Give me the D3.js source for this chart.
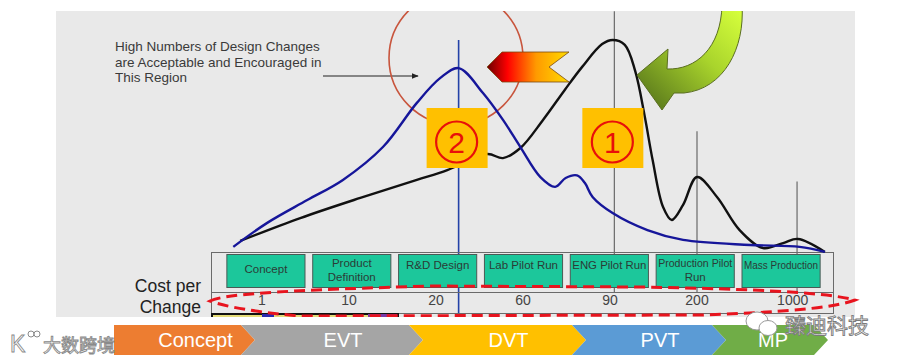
<!DOCTYPE html>
<html lang="en">
<head>
<meta charset="utf-8">
<title>Design changes vs cost per change</title>
<script src="https://d3js.org/d3.v7.min.js"></script>
<style>
body{margin:0;background:#fff;}
svg{display:block;}
</style>
</head>
<body>
<script>
// ---- data ----
// x is the development phase index (0 = Concept ... 6 = Mass Production), y is a relative level of design changes
var phaseLines = [["Concept"], ["Product", "Definition"], ["R&D Design"], ["Lab Pilot Run"], ["ENG Pilot Run"], ["Production Pilot", "Run"], ["Mass Production"]];
var costLabels = ["1", "10", "20", "60", "90", "200", "1000"];
var costPos = [0, 1, 2, 3, 4, 5, 6.1];

// blue: design changes that are cheap to take (peak early)
var blueCurve = [[-0.33, 3.8], [0.06, 13.8], [0.52, 23.3], [0.93, 31.7], [1.39, 45.4], [1.78, 63.8], [2.05, 74.2], [2.26, 78.3],
  [2.54, 67.9], [2.77, 56.7], [2.97, 45.4], [3.2, 32.9], [3.37, 28.8], [3.49, 32.5], [3.62, 33.6], [3.71, 30.5], [3.8, 24.6],
  [4.03, 17.9], [4.43, 10.8], [4.84, 6.7], [5.61, 4.6], [6.18, 3.8], [6.47, 1.7]];
// black: design changes actually happening (peak late)
var blackCurve = [[-0.25, 6.3], [0.44, 15.8], [1.13, 24.2], [1.78, 31.7], [2.13, 35.8], [2.59, 42.5], [2.77, 40.8], [2.97, 45],
  [3.23, 56.7], [3.48, 69.2], [3.68, 78.8], [3.91, 88.3], [4.03, 90], [4.17, 88], [4.29, 77], [4.4, 58], [4.49, 40],
  [4.61, 20.4], [4.71, 15], [4.84, 21.3], [5.0, 32.9], [5.23, 24.6], [5.49, 10.8], [5.76, 3.3], [5.99, 5.4], [6.16, 7.1], [6.47, 1.7]];

var markerX = [4.05, 5.0, 6.15];
var markerTop = [102, 52, 31];
var blueLineX = 2.26, blueLineTop = 90;

var stageNames = ["Concept", "EVT", "DVT", "PVT", "MP"];
var stageSpan = [127, 168, 163, 140, 102];
var stageColors = ["#ed7d31", "#a5a5a5", "#ffc000", "#5b9bd5", "#70ad47"];

var noteLines = ["High Numbers of Design Changes", "are Acceptable and Encouraged in", "This Region"];

// ---- setup ----
var W = 900, H = 364;
var svg = d3.select("body").append("svg").attr("width", W).attr("height", H);
var defs = svg.append("defs");

defs.append("clipPath").attr("id", "panelClip")
  .append("rect").attr("x", 0).attr("y", 11).attr("width", W).attr("height", 306);

var redGrad = defs.append("linearGradient").attr("id", "redGrad").attr("x1", "0%").attr("x2", "100%");
[["0%", "#6a0000"], ["25%", "#ff0000"], ["60%", "#ff9a00"], ["100%", "#ffdc00"]].forEach(function(s) {
  redGrad.append("stop").attr("offset", s[0]).attr("stop-color", s[1]);
});
var greenGrad = defs.append("linearGradient").attr("id", "greenGrad")
  .attr("gradientUnits", "userSpaceOnUse").attr("x1", 740).attr("y1", 10).attr("x2", 650).attr("y2", 105);
[["0%", "#d6ff3c"], ["45%", "#a9d42c"], ["100%", "#5b7a1c"]].forEach(function(s) {
  greenGrad.append("stop").attr("offset", s[0]).attr("stop-color", s[1]);
});
defs.append("marker").attr("id", "arrowHead").attr("viewBox", "0 0 10 10")
  .attr("refX", 9).attr("refY", 5).attr("markerWidth", 6).attr("markerHeight", 6).attr("orient", "auto")
  .append("path").attr("d", "M0,1 L10,5 L0,9 Z").attr("fill", "#222");

svg.append("rect").attr("x", 56).attr("y", 11).attr("width", 799).attr("height", 306).attr("fill", "#e9e9e9");

var g = svg.append("g").attr("clip-path", "url(#panelClip)");

var x = d3.scaleLinear().domain([0, 6]).range([262, 784]);
var y = d3.scaleLinear().domain([0, 100]).range([256, 16]);
var band = d3.scaleBand().domain(d3.range(phaseLines.length)).range([223, 824]).paddingInner(0.09).paddingOuter(0.045);

// note text + arrow
g.append("g").selectAll("text").data(noteLines).enter().append("text")
  .attr("x", 115).attr("y", function(d, i) { return 51 + i * 15.5; })
  .attr("font-family", "Liberation Sans, Arial, sans-serif").attr("font-size", 13.5).attr("fill", "#3a3a3a")
  .text(function(d) { return d; });
g.append("line").attr("x1", 323).attr("y1", 76).attr("x2", 418).attr("y2", 76)
  .attr("stroke", "#222").attr("stroke-width", 1.2).attr("marker-end", "url(#arrowHead)");

// red circle around the blue peak
g.append("circle").attr("cx", 456).attr("cy", 58).attr("r", 67)
  .attr("fill", "none").attr("stroke", "#c8553d").attr("stroke-width", 1.6);

// vertical marker lines
g.selectAll(".marker").data(markerX).enter().append("line").attr("class", "marker")
  .attr("x1", function(d) { return x(d); }).attr("x2", function(d) { return x(d); })
  .attr("y1", function(d, i) { return y(markerTop[i]); }).attr("y2", 293)
  .attr("stroke", "#6a6a6a").attr("stroke-width", 1.2);
g.append("line").attr("x1", x(blueLineX)).attr("x2", x(blueLineX)).attr("y1", y(blueLineTop)).attr("y2", 320)
  .attr("stroke", "#2342a8").attr("stroke-width", 1.6);

// table frame
var tbl = g.append("g").attr("stroke", "#6a6a6a").attr("stroke-width", 1).attr("fill", "none");
tbl.append("rect").attr("x", 211.5).attr("y", 252.5).attr("width", 622).attr("height", 61);
tbl.append("line").attr("x1", 211).attr("x2", 834).attr("y1", 292.5).attr("y2", 292.5);

// cropped strip below the table
g.append("rect").attr("x", 212).attr("y", 314).attr("width", 186).attr("height", 8)
  .attr("fill", "#e4dc78").attr("stroke", "#111").attr("stroke-width", 2);
g.append("rect").attr("x", 262).attr("y", 314).attr("width", 12).attr("height", 8).attr("fill", "#2a2ab0");
g.append("rect").attr("x", 368).attr("y", 314).attr("width", 29).attr("height", 8).attr("fill", "#7a3aa8");

// phase boxes
var boxes = g.selectAll(".phase").data(phaseLines).enter().append("g").attr("class", "phase");
boxes.append("rect")
  .attr("x", function(d, i) { return band(i); }).attr("y", 254.5)
  .attr("width", band.bandwidth()).attr("height", 33)
  .attr("fill", "#1cc79b").attr("stroke", "#4a5a55").attr("stroke-width", 1);
boxes.each(function(d, i) {
  var cx = band(i) + band.bandwidth() / 2;
  var maxW = band.bandwidth() - 4;
  d.forEach(function(line, k) {
    var yy = d.length === 1 ? (i === 0 ? 273 : 269) : 267 + k * 14;
    var t = d3.select(this).append("text").attr("x", cx).attr("y", yy).attr("text-anchor", "middle")
      .attr("font-family", "Liberation Sans, Arial, sans-serif").attr("font-size", 11.5)
      .attr("fill", "#2b3b36").text(line);
    if (t.node().getComputedTextLength() > maxW) {
      t.attr("textLength", maxW).attr("lengthAdjust", "spacingAndGlyphs");
    }
  }, this);
});

// cost per change row
g.selectAll(".cost").data(costLabels).enter().append("text").attr("class", "cost")
  .attr("x", function(d, i) { return x(costPos[i]); }).attr("y", 305)
  .attr("text-anchor", "middle").attr("font-family", "Liberation Sans, Arial, sans-serif")
  .attr("font-size", 14).attr("fill", "#444").text(function(d) { return d; });
g.append("text").attr("x", 201).attr("y", 292).attr("text-anchor", "end")
  .attr("font-family", "Liberation Sans, Arial, sans-serif").attr("font-size", 17.5).attr("fill", "#222").text("Cost per");
g.append("text").attr("x", 201).attr("y", 313).attr("text-anchor", "end")
  .attr("font-family", "Liberation Sans, Arial, sans-serif").attr("font-size", 17.5).attr("fill", "#222").text("Change");

// curves
var line = d3.line().x(function(d) { return x(d[0]); }).y(function(d) { return y(d[1]); })
  .curve(d3.curveCatmullRom.alpha(0.5));
g.append("path").datum(blackCurve).attr("d", line).attr("fill", "none").attr("stroke", "#111").attr("stroke-width", 2.4);
g.append("path").datum(blueCurve).attr("d", line).attr("fill", "none").attr("stroke", "#16169a").attr("stroke-width", 2.4);

// numbered tags
[["2", blueLineX], ["1", markerX[0]]].forEach(function(tag) {
  var cx = x(tag[1]) - 2;
  g.append("rect").attr("x", cx - 30).attr("y", 108).attr("width", 61).attr("height", 60).attr("fill", "#ffc000");
  g.append("circle").attr("cx", cx).attr("cy", 142).attr("r", 20.5)
    .attr("fill", "none").attr("stroke", "#e8100a").attr("stroke-width", 2.2);
  g.append("text").attr("x", cx).attr("y", 153).attr("text-anchor", "middle")
    .attr("font-family", "Liberation Sans, Arial, sans-serif").attr("font-size", 30).attr("fill", "#e8100a").text(tag[0]);
});

// gradient arrow pointing back to the early peak
g.append("path").attr("d", "M487,67 L502,52 L569,52 L549,67 L569,82 L502,82 Z")
  .attr("fill", "url(#redGrad)").attr("stroke", "#7a4a10").attr("stroke-width", 0.8);

// green curved arrow
g.append("path")
  .attr("d", "M722,5 L742,5 C745,48 724,89 684,93 L674,93 L662,110 L637,75 L668,49 L667,69 C696,70 721,48 722,5 Z")
  .attr("fill", "url(#greenGrad)").attr("stroke", "#5a6e20").attr("stroke-width", 1);

// red dashed outline round the cost row
g.append("path")
  .attr("d", "M210,301 C226,293 300,290 430,286 L640,287 C760,289 830,293 855,300 C840,306 800,312 700,315 L300,316 C262,313 226,307 210,301 Z")
  .attr("fill", "none").attr("stroke", "#e8141e").attr("stroke-width", 3).attr("stroke-dasharray", "11,6");

// stage chevrons
var cum = [0];
stageSpan.forEach(function(v) { cum.push(cum[cum.length - 1] + v); });
var sx = d3.scaleLinear().domain([0, d3.sum(stageSpan)]).range([114, 814]);
var barTop = 325, barBot = 355, barMid = 340, tip = 14;
var stages = svg.append("g").selectAll("g").data(stageNames).enter().append("g");
stages.append("path").attr("d", function(d, i) {
  var l = sx(cum[i]), r = sx(cum[i + 1]);
  var p = "M" + l + "," + barTop + " L" + r + "," + barTop + " L" + (r + tip) + "," + barMid +
    " L" + r + "," + barBot + " L" + l + "," + barBot;
  if (i > 0) p += " L" + (l + tip) + "," + barMid;
  return p + " Z";
}).attr("fill", function(d, i) { return stageColors[i]; });
stages.append("text")
  .attr("x", function(d, i) { return (sx(cum[i]) + sx(cum[i + 1])) / 2 + (i === 4 ? 10 : 18); })
  .attr("y", 347).attr("text-anchor", "middle")
  .attr("font-family", "Liberation Sans, Arial, sans-serif").attr("font-size", 20).attr("fill", "#fff")
  .text(function(d) { return d; });

// watermarks
var wm = svg.append("g");
wm.append("ellipse").attr("cx", 757).attr("cy", 321).attr("rx", 11).attr("ry", 9).attr("fill", "#fff").attr("stroke", "#999");
wm.append("ellipse").attr("cx", 768).attr("cy", 328).attr("rx", 9).attr("ry", 7.5).attr("fill", "#fff").attr("stroke", "#999");
wm.append("text").attr("x", 785).attr("y", 333).attr("font-family", "Noto Sans CJK SC, sans-serif").attr("font-size", 21)
  .attr("fill", "#fff").attr("stroke", "#7a7a7a").attr("stroke-width", 0.9).text("臻迪科技");
wm.append("text").attr("x", 10).attr("y", 352).attr("font-family", "Liberation Sans, sans-serif").attr("font-size", 23)
  .attr("fill", "#fff").attr("stroke", "#8a8a8a").attr("stroke-width", 0.9).text("K");
wm.append("circle").attr("cx", 31).attr("cy", 334).attr("r", 3).attr("fill", "#fff").attr("stroke", "#8a8a8a");
wm.append("circle").attr("cx", 37).attr("cy", 334).attr("r", 3).attr("fill", "#fff").attr("stroke", "#8a8a8a");
wm.append("text").attr("x", 43).attr("y", 352).attr("font-family", "Noto Sans CJK SC, sans-serif").attr("font-size", 18)
  .attr("fill", "#fff").attr("stroke", "#8a8a8a").attr("stroke-width", 0.9).text("大数跨境");
</script>
</body>
</html>
